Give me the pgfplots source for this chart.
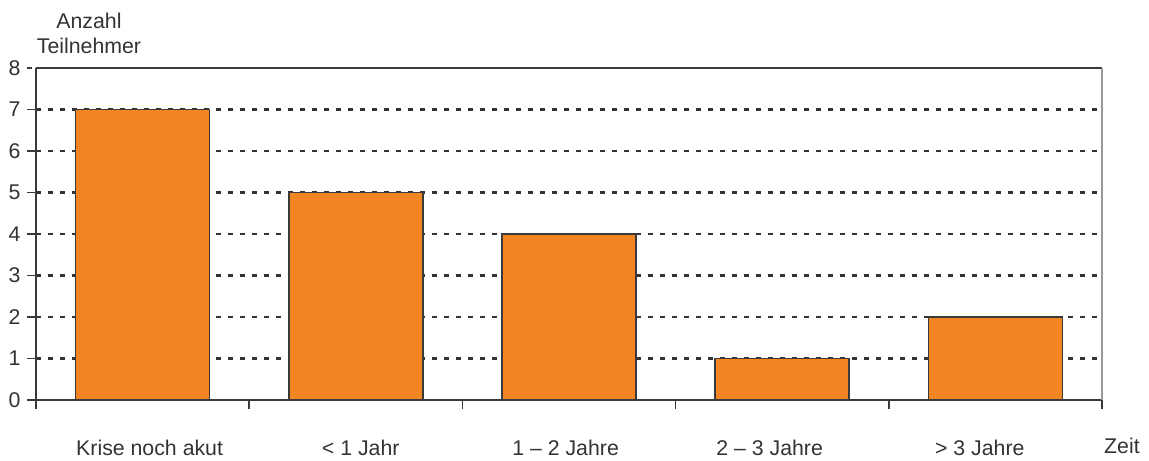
\documentclass[border=0pt]{standalone}
\usepackage{fontspec}
\setmainfont{Liberation Sans}
\usepackage{pgfplots}
\pgfplotsset{compat=1.18}
\definecolor{barorange}{HTML}{F28522}
\definecolor{txt}{HTML}{333333}
\definecolor{axl}{HTML}{3A3A3A}
\begin{document}
\begin{tikzpicture}
\begin{axis}[
  scale only axis,
  width=1066pt, height=332pt,
  xmin=-0.5, xmax=4.5,
  ymin=0, ymax=8,
  ytick={0,1,...,8},
  xtick={-0.5,0.5,1.5,2.5,3.5,4.5},
  xticklabels={},
  extra x ticks={0.033,1.023,1.984,2.941,3.927},
  extra x tick labels={Krise noch akut,{< 1 Jahr},{1 – 2 Jahre},{2 – 3 Jahre},{> 3 Jahre}},
  extra x tick style={major tick length=0pt, grid=none,
     tick label style={yshift=-37pt}},
  tick align=outside,
  major tick length=9pt,
  every tick/.style={axl, line width=1.6pt},
  y tick style={shorten >=4pt},
  axis x line*=bottom,
  axis y line*=left,
  axis line style={axl, line width=1.9pt},
  ymajorgrids,
  major grid style={txt, line width=2.2pt, dash pattern=on 4.5pt off 7.5pt},
  /pgf/number format/assume math mode=true,
  tick label style={font=\fontsize{21.3}{25}\selectfont, text=txt},
  yticklabel style={xshift=-3pt},
  clip=false,
]
\addplot[ybar, bar width=0.629, fill=barorange, draw=axl, line width=1.6pt]
  coordinates {(0,7) (1,5) (2,4) (3,1) (4,2)};
\draw[axl, line width=1.9pt] (rel axis cs:0,1) -- (rel axis cs:1,1);
\draw[gray!80, line width=1.9pt] (rel axis cs:1,0) -- (rel axis cs:1,1);
\node[anchor=base west, inner sep=0pt, text=txt, font=\fontsize{21.3}{25}\selectfont] at ([xshift=2pt,yshift=-53.5pt]rel axis cs:1,0) {Zeit};
\node[anchor=base, inner sep=0pt, text=txt, font=\fontsize{21.3}{25}\selectfont] at ([xshift=53pt,yshift=15pt]rel axis cs:0,1) {Teilnehmer};
\node[anchor=base, inner sep=0pt, text=txt, font=\fontsize{21.3}{25}\selectfont] at ([xshift=53pt,yshift=40pt]rel axis cs:0,1) {Anzahl};
\coordinate (sw) at (rel axis cs:0,0);
\coordinate (ne) at (rel axis cs:1,1);
\end{axis}
\useasboundingbox ([xshift=-36pt,yshift=-60pt]sw) rectangle ([xshift=47pt,yshift=68pt]ne);
\end{tikzpicture}
\end{document}
